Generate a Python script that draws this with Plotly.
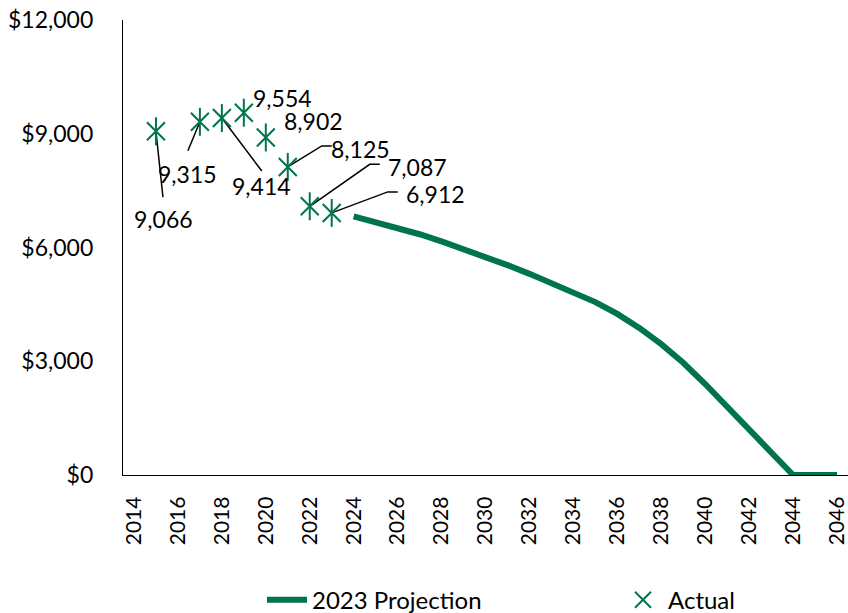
import plotly.graph_objects as go

# ---- data ----
actual_years = [2015, 2017, 2018, 2019, 2020, 2021, 2022, 2023]
actual_values = [9066, 9315, 9414, 9554, 8902, 8125, 7087, 6912]

proj_years = list(range(2024, 2047))
proj_values = [6820, 6675, 6520, 6350, 6160, 5960, 5750, 5535, 5305, 5070,
               4830, 4560, 4250, 3880, 3450, 2960, 2400, 1810, 1215, 620,
               0, 0, 0]

x_ticks = list(range(2014, 2047, 2))
y_ticks = [0, 3000, 6000, 9000, 12000]
y_ticktext = ["$0", "$3,000", "$6,000", "$9,000", "$12,000"]

GREEN = "#00754A"
FONT = "Lato"

# ---- label placement (pixel offsets from each point: text dx, dy down; leader path) ----
label_layout = [
    ((8, 88), [(0, 0), (7, 66)]),
    ((-12, 52), [(0, 0), (-12, 29)]),
    ((40, 68), [(0, 0), (40, 53)]),
    ((39, -15), None),
    ((48, -16), None),
    ((73, -18), [(0, 0), (34, -21), (44, -21)]),
    ((108, -39), [(0, 0), (60, -42), (70, -42)]),
    ((104, -19), [(0, 0), (56, -21), (66, -21)]),
]

fig = go.Figure()

fig.add_trace(go.Scatter(
    x=proj_years, y=proj_values, mode="lines", name="2023 Projection",
    line=dict(color=GREEN, width=6),
    legend="legend",
))

fig.add_trace(go.Scatter(
    x=actual_years, y=actual_values, mode="markers", name="Actual",
    marker=dict(symbol="x-thin-open", size=18, color=GREEN,
                line=dict(color=GREEN, width=2)),
    legend="legend2",
))
fig.add_trace(go.Scatter(
    x=actual_years, y=actual_values, mode="markers", name="Actual",
    showlegend=False,
    marker=dict(symbol="line-ns-open", size=20, color=GREEN,
                line=dict(color=GREEN, width=2)),
))

annotations = []
shapes = []
for yr, val, ((dx, dy), leader) in zip(actual_years, actual_values, label_layout):
    annotations.append(dict(
        x=yr, y=val, xref="x", yref="y", text=f"{val:,}", showarrow=False,
        xshift=dx, yshift=-dy, xanchor="center", yanchor="middle",
        font=dict(family=FONT, size=23, color="black"),
    ))
    if leader:
        path = "M" + " L".join(f"{px},{-py}" for px, py in leader)
        shapes.append(dict(
            type="path", xref="x", yref="y", xsizemode="pixel", ysizemode="pixel",
            xanchor=yr, yanchor=val, path=path,
            line=dict(color="black", width=1.5), layer="below",
        ))

legend_font = dict(family=FONT, size=24, color="black")
fig.update_layout(
    width=848, height=613, autosize=False,
    margin=dict(l=123, r=0, t=20, b=138, autoexpand=False),
    paper_bgcolor="white", plot_bgcolor="white",
    font=dict(family=FONT, size=23, color="black"),
    showlegend=True,
    legend=dict(orientation="h", x=262 / 848, xref="container", xanchor="left",
                y=0.021, yref="container", yanchor="middle",
                font=legend_font, itemwidth=40, bgcolor="rgba(0,0,0,0)"),
    legend2=dict(orientation="h", x=618 / 848, xref="container", xanchor="left",
                 y=0.021, yref="container", yanchor="middle",
                 font=legend_font, itemwidth=40, bgcolor="rgba(0,0,0,0)"),
    annotations=annotations,
    shapes=shapes,
)

fig.update_xaxes(
    range=[2013.5, 2046.5], tickmode="array", tickvals=x_ticks,
    ticktext=[str(t) for t in x_ticks], tickangle=-90,
    showline=True, linecolor="black", linewidth=1.3, mirror=False,
    showgrid=False, zeroline=False, ticks="", ticklabelstandoff=12,
    tickfont=dict(family=FONT, size=21, color="black"),
)
fig.update_yaxes(
    range=[0, 12000], tickmode="array", tickvals=y_ticks, ticktext=y_ticktext,
    showline=True, linecolor="black", linewidth=1.3,
    showgrid=False, zeroline=False, ticks="", ticklabelstandoff=24,
    tickfont=dict(family=FONT, size=23, color="black"),
)

fig.write_html("out.html")
